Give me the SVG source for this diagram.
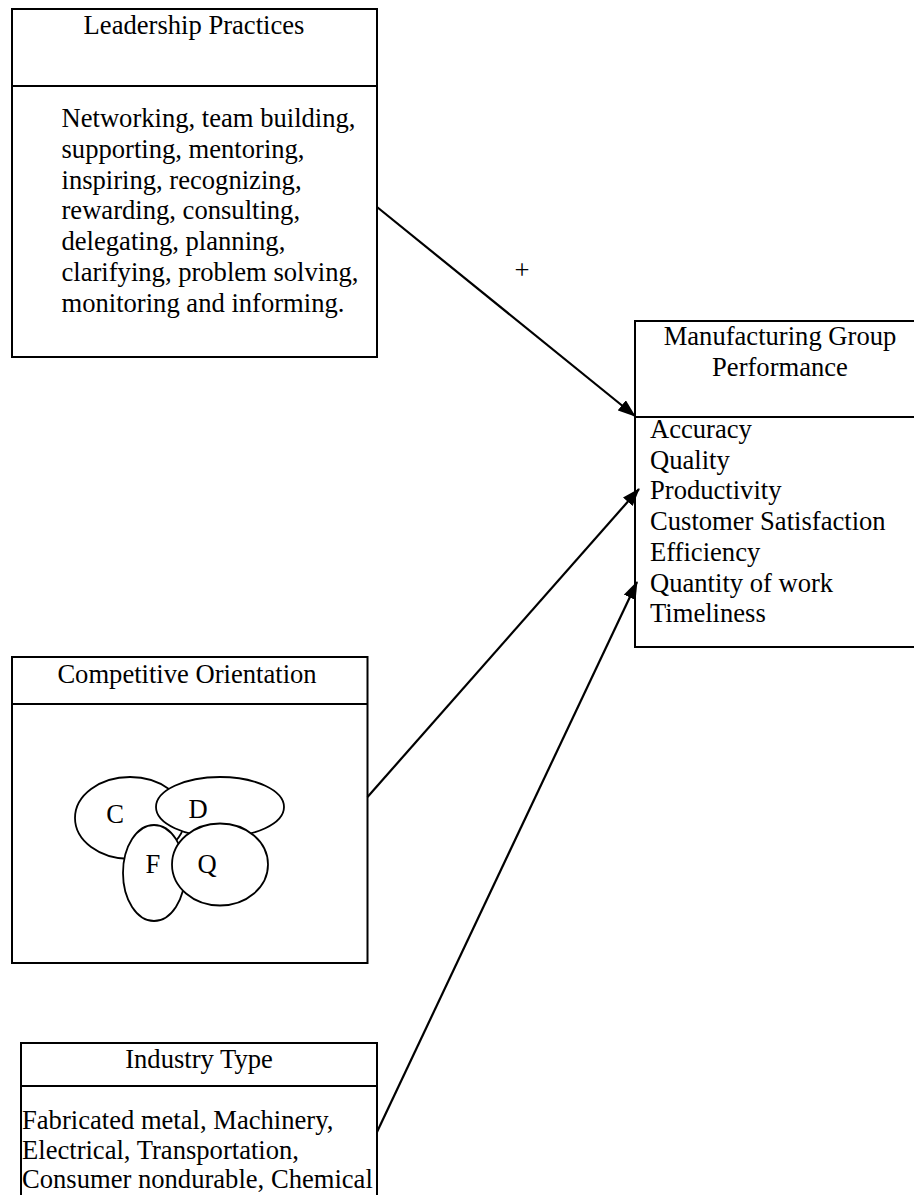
<svg xmlns="http://www.w3.org/2000/svg" width="914" height="1195" viewBox="0 0 914 1195">
<style>
  .box { fill: #fff; stroke: #000; stroke-width: 2; }
  .div { stroke: #000; stroke-width: 2; }
  .ell { fill: #fff; stroke: #000; stroke-width: 1.8; }
  text { font-family: "Liberation Serif", "Times New Roman", serif; font-size: 26.6px; fill: #000; }
  .mid { text-anchor: middle; }
  .conn { stroke: #000; stroke-width: 2.2; fill: none; marker-end: url(#ah); }
</style>
<defs>
  <marker id="ah" viewBox="0 0 18 13" refX="17" refY="6.5" markerWidth="18" markerHeight="13" markerUnits="userSpaceOnUse" orient="auto">
    <path d="M0,0 L18,6.5 L0,13 z" fill="#000"/>
  </marker>
</defs>
<rect width="914" height="1195" fill="#fff"/>

<g id="leadership">
  <rect class="box" x="12" y="9" width="365" height="348"/>
  <line class="div" x1="12" y1="86" x2="377" y2="86"/>
  <text class="mid" x="194" y="34">Leadership Practices</text>
  <text x="61.5" y="127">Networking, team building,</text>
  <text x="61.5" y="158">supporting, mentoring,</text>
  <text x="61.5" y="189">inspiring, recognizing,</text>
  <text x="61.5" y="219">rewarding, consulting,</text>
  <text x="61.5" y="250">delegating, planning,</text>
  <text x="61.5" y="281">clarifying, problem solving,</text>
  <text x="61.5" y="312">monitoring and informing.</text>
</g>

<g id="performance">
  <rect class="box" x="635" y="321" width="292" height="326"/>
  <line class="div" x1="635" y1="417" x2="927" y2="417"/>
  <text class="mid" x="780" y="345">Manufacturing Group</text>
  <text class="mid" x="780" y="376">Performance</text>
  <text x="650" y="438">Accuracy</text>
  <text x="650" y="468.7">Quality</text>
  <text x="650" y="499.4">Productivity</text>
  <text x="650" y="530.1">Customer Satisfaction</text>
  <text x="650" y="560.8">Efficiency</text>
  <text x="650" y="591.5">Quantity of work</text>
  <text x="650" y="622.2">Timeliness</text>
</g>

<g id="competitive">
  <rect class="box" x="12" y="657" width="355.5" height="306"/>
  <line class="div" x1="12" y1="704" x2="367.5" y2="704"/>
  <text class="mid" x="187" y="683">Competitive Orientation</text>
  <ellipse class="ell" cx="130" cy="818" rx="55" ry="41"/>
  <ellipse class="ell" cx="220" cy="807" rx="64" ry="30"/>
  <ellipse class="ell" cx="154" cy="873" rx="31" ry="48"/>
  <ellipse class="ell" cx="220" cy="864.5" rx="48" ry="41"/>
  <text class="mid" x="115" y="823">C</text>
  <text class="mid" x="198" y="818">D</text>
  <text class="mid" x="153" y="873">F</text>
  <text class="mid" x="207" y="873">Q</text>
</g>

<g id="industry">
  <rect class="box" x="21" y="1043" width="356" height="170"/>
  <line class="div" x1="21" y1="1086" x2="377" y2="1086"/>
  <text class="mid" x="199" y="1068">Industry Type</text>
  <text x="22" y="1129">Fabricated metal, Machinery,</text>
  <text x="22" y="1159">Electrical, Transportation,</text>
  <text x="22" y="1188">Consumer nondurable, Chemical</text>
</g>

<g id="connectors">
  <line class="conn" x1="377" y1="207" x2="635" y2="416"/>
  <line class="conn" x1="367.5" y1="797" x2="639" y2="489"/>
  <line class="conn" x1="377" y1="1132" x2="637" y2="582"/>
  <text class="mid" x="522" y="279">+</text>
</g>
</svg>
